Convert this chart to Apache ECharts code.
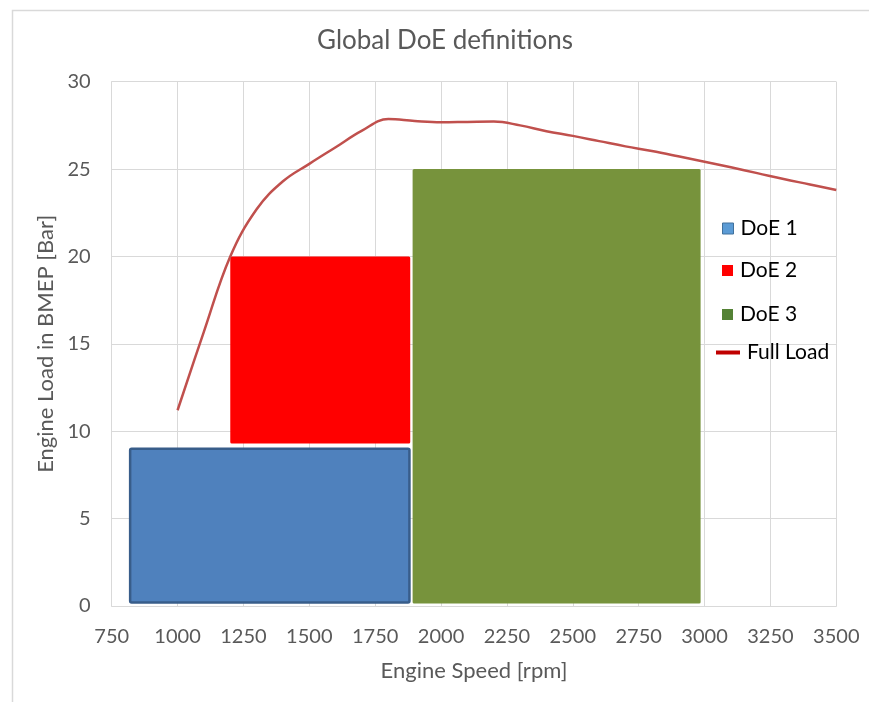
<!DOCTYPE html>
<html>
<head>
<meta charset="utf-8">
<title>Global DoE definitions</title>
<script src="https://cdn.jsdelivr.net/npm/echarts@6/dist/echarts.min.js"></script>
<style>
  html, body { margin: 0; padding: 0; background: #ffffff; }
  #chart { width: 869px; height: 702px; }
</style>
</head>
<body>
<div id="chart"></div>
<script>
// Operating ranges of each DoE: [speed from, speed to, load from, load to]
const doe1 = [820, 1880, 0.2, 9];
const doe2 = [1200, 1883, 9.3, 20];
const doe3 = [1892, 2985, 0.15, 25];

// Full-load curve: engine speed [rpm] and BMEP [bar]
const fullLoadSpeed = [1000, 1100, 1200, 1300, 1400, 1500, 1600, 1700, 1800, 1900, 2000, 2100, 2200, 2300, 2400, 2500, 2600, 2700, 2800, 2900, 3000, 3100, 3200, 3300, 3400, 3500];
const fullLoadBmep  = [11.2, 15.7, 20.0, 22.7, 24.3, 25.3, 26.25, 27.2, 27.86, 27.75, 27.68, 27.7, 27.72, 27.5, 27.17, 26.9, 26.6, 26.3, 26.03, 25.73, 25.42, 25.1, 24.77, 24.43, 24.12, 23.8];

const FONT = 'Lato';
const GREY_TEXT = '#595959';
const GRID_LINE = '#d9d9d9';

const chart = echarts.init(document.getElementById('chart'), null, { renderer: 'canvas' });

function rectItem(fill, stroke, lineWidth) {
  return function (params, api) {
    const p0 = api.coord([api.value(0), api.value(3)]);
    const p1 = api.coord([api.value(1), api.value(2)]);
    return {
      type: 'rect',
      shape: { x: p0[0], y: p0[1], width: p1[0] - p0[0], height: p1[1] - p0[1], r: 1.5 },
      style: { fill: fill, stroke: stroke, lineWidth: lineWidth }
    };
  };
}

function legendFor(name, top, left, icon, w, h, style) {
  return {
    data: [{ name: name, icon: icon, itemStyle: style }],
    left: left, top: top, padding: 0,
    itemWidth: w, itemHeight: h, itemGap: 0,
    textStyle: { fontFamily: FONT, fontSize: 21, color: '#000000', padding: [0, 0, 0, 2] },
    selectedMode: false
  };
}

const plainNumber = v => String(v);

chart.setOption({
  animation: false,
  backgroundColor: '#ffffff',
  title: {
    text: 'Global DoE definitions',
    left: 440, top: 23, textAlign: 'center',
    textStyle: { fontFamily: FONT, fontSize: 26, fontWeight: 'normal', color: GREY_TEXT }
  },
  graphic: [{
    type: 'rect', left: 10, top: 8, silent: true,
    shape: { width: 900, height: 800 },
    style: { fill: 'none', stroke: GRID_LINE, lineWidth: 1.5 }
  }],
  legend: [
    legendFor('DoE 1', 218, 722, 'rect', 11, 11, { color: '#5b9bd5', borderColor: '#41719c', borderWidth: 1 }),
    legendFor('DoE 2', 260, 722, 'rect', 11, 11, { color: '#ff0000', borderWidth: 0 }),
    legendFor('DoE 3', 304, 722, 'rect', 11, 11, { color: '#548235', borderWidth: 0 }),
    legendFor('Full Load', 342, 716, 'rect', 24, 4, { color: '#c00000', borderWidth: 0 })
  ],
  grid: { left: 111.7, right: 32.7, top: 81.7, bottom: 96, containLabel: false },
  xAxis: {
    type: 'value', min: 750, max: 3500, interval: 250,
    name: 'Engine Speed [rpm]', nameLocation: 'middle', nameGap: 54,
    nameTextStyle: { fontFamily: FONT, fontSize: 22, color: GREY_TEXT },
    axisLine: { show: true, lineStyle: { color: GRID_LINE, width: 1 } },
    axisTick: { show: false },
    axisLabel: { fontFamily: FONT, fontSize: 20, color: GREY_TEXT, margin: 21, formatter: plainNumber },
    splitLine: { show: true, lineStyle: { color: GRID_LINE, width: 1 } }
  },
  yAxis: {
    type: 'value', min: 0, max: 30, interval: 5,
    name: 'Engine Load in BMEP [Bar]', nameLocation: 'middle', nameGap: 53,
    nameTextStyle: { fontFamily: FONT, fontSize: 22, color: GREY_TEXT },
    axisLine: { show: true, lineStyle: { color: GRID_LINE, width: 1 } },
    axisTick: { show: false },
    axisLabel: { fontFamily: FONT, fontSize: 20, color: GREY_TEXT, margin: 21, formatter: plainNumber },
    splitLine: { show: true, lineStyle: { color: GRID_LINE, width: 1 } }
  },
  series: [
    {
      name: 'DoE 1', type: 'custom', renderItem: rectItem('#4f81bd', '#385d8a', 2.5),
      data: [doe1], encode: { x: [0, 1], y: [2, 3] }, z: 2
    },
    {
      name: 'DoE 2', type: 'custom', renderItem: rectItem('#ff0000', null, 0),
      data: [doe2], encode: { x: [0, 1], y: [2, 3] }, z: 2
    },
    {
      name: 'DoE 3', type: 'custom', renderItem: rectItem('#77933c', null, 0),
      data: [doe3], encode: { x: [0, 1], y: [2, 3] }, z: 2
    },
    {
      name: 'Full Load', type: 'line', smooth: 0.4, showSymbol: false,
      data: fullLoadSpeed.map((s, i) => [s, fullLoadBmep[i]]),
      lineStyle: { color: '#c0504d', width: 2.5 },
      itemStyle: { color: '#c0504d' }, z: 3
    }
  ]
});
</script>
</body>
</html>
